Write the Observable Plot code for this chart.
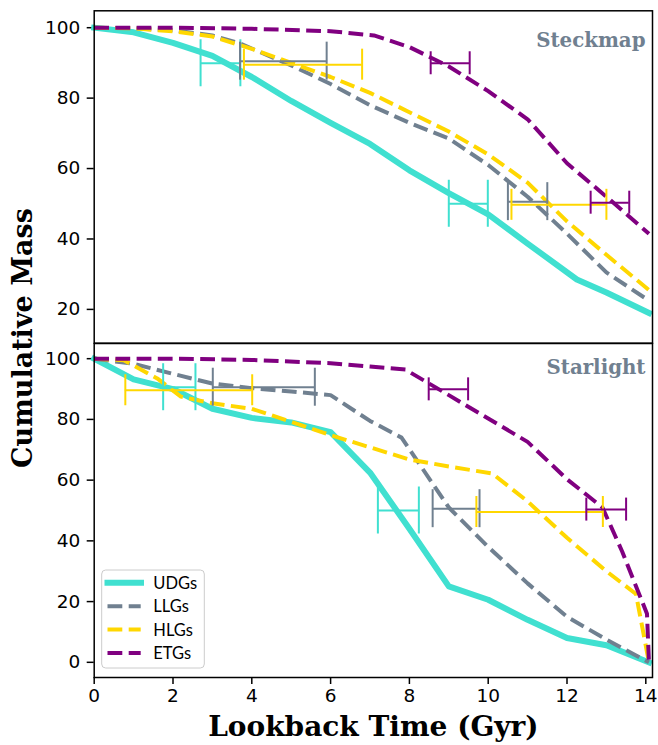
<!DOCTYPE html>
<html><head><meta charset="utf-8">
<script src="https://cdn.jsdelivr.net/npm/d3@7"></script>
<script src="https://cdn.jsdelivr.net/npm/@observablehq/plot@0.6"></script>
<style>
html,body{margin:0;padding:0;background:#fff;}
#wrap{position:relative;width:658px;height:745px;overflow:hidden;background:#fff;}
#wrap > svg{position:absolute;left:0;display:block;}
</style></head><body>
<div id="wrap"></div>
<script>
// ---------- data ----------
const groups = ["UDGs", "LLGs", "HLGs", "ETGs"];
const xTicks = [0, 2, 4, 6, 8, 10, 12, 14];
const yTicksTop = [20, 40, 60, 80, 100];
const yTicksBottom = [0, 20, 40, 60, 80, 100];
const panelNames = ["Steckmap", "Starlight"];

// [lookback time (Gyr), cumulative mass (%)]
const steckmapUDGs = [[0,100],[1,98.7],[2,95.7],[3,92],[4,86],[5,79.2],[6,73],[7,67],[8,59.5],[9,53],[10,47],[11,38.7],[12.25,28.5],[13,24.8],[14.08,19]];
const steckmapLLGs = [[0,100],[1,99.8],[2,99.3],[3,97.8],[3.7,95.5],[5,89.3],[6,84],[7,78],[8,73],[9,68.5],[10,61],[11,52],[12,41.5],[13,30.5],[14.08,22.5]];
const steckmapHLGs = [[0,100],[1,99.8],[2,99],[3,97.5],[4,94],[5,90],[6,86],[7,81.5],[8,76],[9,70.5],[10,64],[11,56],[12,45],[13,35.5],[14.08,25.5]];
const steckmapETGs = [[0,100],[2,100],[4,99.7],[6,99],[7.1,97.8],[8,94.5],[9,89],[10,82],[11,74],[12,61.5],[13,52],[14.08,41.5]];

const starlightUDGs = [[0,100],[1,93.2],[2,90],[3,83.5],[4,80.5],[5,79],[6,75.8],[7,62.5],[8,44],[9,25],[10,20.6],[11,14],[12,8],[13,5.6],[14.08,0]];
const starlightLLGs = [[0,100],[1,98.3],[2,95],[3,91.8],[4,90.3],[5,89.2],[6,88],[7,79.5],[7.8,74],[9,51],[10,38],[11,26],[12,15],[13,7.5],[14.08,0]];
const starlightHLGs = [[0,100],[0.75,99.5],[1.6,93.5],[2.2,87.5],[3,85.3],[4,83.5],[5,79.2],[6,74.8],[7,70.8],[8,66.8],[9,64.5],[10.1,62.2],[11,53],[12,41],[13,30],[13.75,22.5],[14.08,0]];
const starlightETGs = [[0,100],[2,100],[4,99.6],[6,98.5],[7,97.4],[7.9,96.4],[9,88],[10,80.3],[11,72.6],[12,60.3],[12.9,51],[13.4,36.5],[14.03,16],[14.08,0]];

// error bars: [group, t low, t high, cumulative mass]
const steckmapT90 = [["UDGs",2.70,3.71,89.9],["LLGs",3.70,5.90,90.5],["HLGs",3.80,6.80,89.5],["ETGs",8.54,9.53,89.9]];
const steckmapT50 = [["UDGs",9.00,9.99,50.0],["LLGs",10.50,11.50,50.6],["HLGs",10.59,13.00,49.7],["ETGs",12.60,13.58,50.3]];
const starlightT90 = [["UDGs",1.75,2.57,90.6],["LLGs",3.01,5.60,90.6],["HLGs",0.79,4.01,89.6],["ETGs",8.49,9.49,89.9]];
const starlightT50 = [["UDGs",7.20,8.24,50.0],["LLGs",8.59,9.78,50.6],["HLGs",9.70,12.91,49.5],["ETGs",12.49,13.50,50.3]];

// ---------- styles ----------
const colors = {UDGs:"#40E0D0", LLGs:"#708090", HLGs:"#FFD700", ETGs:"#800080"};
const widths = {UDGs:6, LLGs:4, HLGs:4, ETGs:4};
const dashes = {UDGs:null, LLGs:"14.8,6.4", HLGs:"14.8,6.4", ETGs:"14.8,6.4"};
const caps = {UDGs:47, LLGs:38, HLGs:31, ETGs:23};

function lineMarks(seriesList) {
  return seriesList.map(([g, d]) => Plot.line(d, {
    x: r => r[0], y: r => r[1], stroke: colors[g], strokeWidth: widths[g],
    strokeDasharray: dashes[g] || undefined, strokeLinejoin: "round",
    strokeLinecap: dashes[g] ? "butt" : "square"
  }));
}
function errMarks(t90, t50) {
  const rows = [...t90, ...t50].map(([g, lo, hi, m]) => ({g, lo, hi, m}));
  const out = [];
  for (const g of groups) {
    const d = rows.filter(r => r.g === g);
    const c = colors[g], h = caps[g] / 2;
    out.push(Plot.ruleY(d, {x1: "lo", x2: "hi", y: "m", stroke: c, strokeWidth: 2}));
    out.push(Plot.ruleX(d, {x: "lo", y1: "m", y2: "m", stroke: c, strokeWidth: 2, insetTop: -h, insetBottom: -h}));
    out.push(Plot.ruleX(d, {x: "hi", y1: "m", y2: "m", stroke: c, strokeWidth: 2, insetTop: -h, insetBottom: -h}));
  }
  return out;
}
const baseStyle = {fontFamily: "DejaVu Sans", fontSize: "18.5px", color: "black", background: "transparent", overflow: "visible"};
const panelText = (name, dy) => Plot.text([name], {
  frameAnchor: "top-right", dx: -7, dy, lineAnchor: "top",
  fontFamily: "DejaVu Serif", fontWeight: "bold", fontSize: 19.8, fill: "#708090"
});

const topPlot = Plot.plot({
  width: 658, height: 343, marginTop: 10.3, marginBottom: 0.3, marginLeft: 93.7, marginRight: 6,
  x: {domain: [0, 14.17], axis: null},
  y: {domain: [10.4, 104.8]},
  style: baseStyle,
  marks: [
    Plot.axisY({ticks: yTicksTop, tickSize: 7, tickPadding: 7, strokeWidth: 1.5, label: null}),
    ...lineMarks([["UDGs", steckmapUDGs], ["LLGs", steckmapLLGs], ["HLGs", steckmapHLGs], ["ETGs", steckmapETGs]]),
    ...errMarks(steckmapT90, steckmapT50),
    panelText(panelNames[0], 22),
    Plot.frame({stroke: "black", strokeWidth: 1.5})
  ]
});

const botPlot = Plot.plot({
  width: 658, height: 412, marginTop: 10, marginBottom: 68, marginLeft: 93.7, marginRight: 6,
  x: {domain: [0, 14.17]},
  y: {domain: [-5, 105]},
  style: baseStyle,
  marks: [
    Plot.axisY({ticks: yTicksBottom, tickSize: 7, tickPadding: 7, strokeWidth: 1.5, label: null}),
    Plot.axisX({ticks: xTicks, tickSize: 7, tickPadding: 4, strokeWidth: 1.5, label: null}),
    ...lineMarks([["UDGs", starlightUDGs], ["LLGs", starlightLLGs], ["HLGs", starlightHLGs], ["ETGs", starlightETGs]]),
    ...errMarks(starlightT90, starlightT50),
    panelText(panelNames[1], 16.2),
    Plot.text(["Lookback Time (Gyr)"], {frameAnchor: "bottom", dy: 50, lineAnchor: "middle",
      fontFamily: "DejaVu Serif", fontWeight: "bold", fontSize: 28, fill: "black"}),
    Plot.frame({stroke: "black", strokeWidth: 1.5})
  ]
});

const wrap = document.getElementById("wrap");
topPlot.style.top = "0px";
botPlot.style.top = "333px";
wrap.appendChild(topPlot);
wrap.appendChild(botPlot);

// overlay: shared y label and legend
const ov = d3.select(wrap).append("svg").attr("width", 658).attr("height", 745)
  .style("top", "0px").style("pointer-events", "none");
ov.append("text").attr("transform", "translate(32,338) rotate(-90)")
  .attr("text-anchor", "middle").attr("font-family", "DejaVu Serif").attr("font-weight", "bold")
  .attr("font-size", 27).attr("fill", "black").text("Cumulative Mass");

const lg = ov.append("g");
lg.append("rect").attr("x", 101.7).attr("y", 570).attr("width", 102.6).attr("height", 98).attr("rx", 4)
  .attr("fill", "white").attr("fill-opacity", 0.8).attr("stroke", "#cccccc").attr("stroke-width", 1);
groups.forEach((g, i) => {
  const y = 582.7 + i * 23.45;
  lg.append("line").attr("x1", 107.5).attr("x2", dashes[g] ? 140.7 : 141).attr("y1", y).attr("y2", y)
    .attr("stroke", colors[g]).attr("stroke-width", widths[g])
    .attr("stroke-dasharray", dashes[g] || null).attr("stroke-linecap", dashes[g] ? "butt" : "square");
  lg.append("text").attr("x", 153.3).attr("y", y + 6.3).attr("font-family", "Lato")
    .attr("font-size", 16.5).attr("fill", "black").text(g);
});
</script>
</body></html>
